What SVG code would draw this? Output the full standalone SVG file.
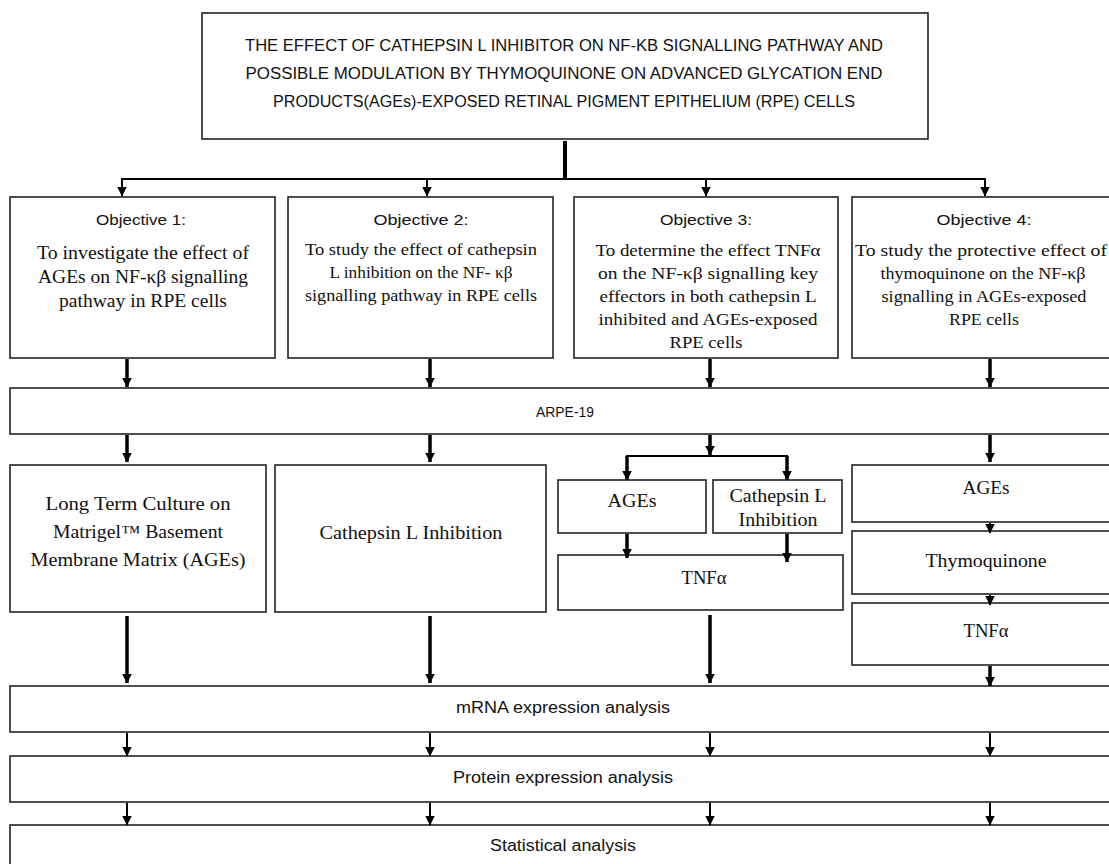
<svg xmlns="http://www.w3.org/2000/svg" width="1109" height="864" viewBox="0 0 1109 864">
<style>
.box{fill:#fff;stroke:#222;stroke-width:1.6}
.sans{font-family:"Liberation Sans","Open Sans",sans-serif;fill:#111;text-anchor:middle}
.serif{font-family:"Liberation Serif","DejaVu Serif",serif;fill:#111;text-anchor:middle}
.ln{stroke:#000;stroke-width:2;fill:none}
.thick{stroke:#000;stroke-width:3.5;fill:none}
</style>
<defs>
<marker id="ah" markerWidth="10" markerHeight="11" refX="9.5" refY="5.5" orient="auto" markerUnits="userSpaceOnUse" viewBox="0 0 10 11">
<path d="M0,0.5 L0,10.5 L10,5.5 Z" fill="#000"/>
</marker>
</defs>
<rect width="1109" height="864" fill="#fff"/>

<g id="title">
<rect class="box" x="202" y="13" width="726" height="126"/>
<text class="sans" font-size="16" x="564" y="51" textLength="638" lengthAdjust="spacingAndGlyphs">THE EFFECT OF CATHEPSIN L INHIBITOR ON NF-KB SIGNALLING PATHWAY AND</text>
<text class="sans" font-size="16" x="564" y="79" textLength="637" lengthAdjust="spacingAndGlyphs">POSSIBLE MODULATION BY THYMOQUINONE ON ADVANCED GLYCATION END</text>
<text class="sans" font-size="16" x="564" y="107" textLength="582" lengthAdjust="spacingAndGlyphs">PRODUCTS(AGEs)-EXPOSED RETINAL PIGMENT EPITHELIUM (RPE) CELLS</text>
</g>

<g id="obj1">
<rect class="box" x="10" y="197" width="265" height="161"/>
<text class="sans" font-size="15.5" x="141" y="225" textLength="90" lengthAdjust="spacingAndGlyphs">Objective 1:</text>
<text class="serif" font-size="18.5" x="143" y="259" textLength="212" lengthAdjust="spacingAndGlyphs">To investigate the effect of</text>
<text class="serif" font-size="18.5" x="143" y="283" textLength="210" lengthAdjust="spacingAndGlyphs">AGEs on NF-κβ signalling</text>
<text class="serif" font-size="18.5" x="143" y="307" textLength="168" lengthAdjust="spacingAndGlyphs">pathway in RPE cells</text>
</g>
<g id="obj2">
<rect class="box" x="288" y="197" width="265" height="161"/>
<text class="sans" font-size="15.5" x="421" y="225" textLength="95" lengthAdjust="spacingAndGlyphs">Objective 2:</text>
<text class="serif" font-size="17" x="421" y="255" textLength="232" lengthAdjust="spacingAndGlyphs">To study the effect of cathepsin</text>
<text class="serif" font-size="17" x="421" y="278" textLength="183" lengthAdjust="spacingAndGlyphs">L inhibition on the NF- κβ</text>
<text class="serif" font-size="17" x="421" y="301" textLength="232" lengthAdjust="spacingAndGlyphs">signalling pathway in RPE cells</text>
</g>
<g id="obj3">
<rect class="box" x="574" y="197" width="264" height="161"/>
<text class="sans" font-size="15.5" x="706" y="225" textLength="92" lengthAdjust="spacingAndGlyphs">Objective 3:</text>
<text class="serif" font-size="17" x="708" y="256" textLength="225" lengthAdjust="spacingAndGlyphs">To determine the effect TNFα</text>
<text class="serif" font-size="17" x="708" y="279" textLength="220" lengthAdjust="spacingAndGlyphs">on the NF-κβ signalling key</text>
<text class="serif" font-size="17" x="708" y="302" textLength="217" lengthAdjust="spacingAndGlyphs">effectors in both cathepsin L</text>
<text class="serif" font-size="17" x="708" y="325" textLength="219" lengthAdjust="spacingAndGlyphs">inhibited and AGEs-exposed</text>
<text class="serif" font-size="17" x="706" y="348" textLength="73" lengthAdjust="spacingAndGlyphs">RPE cells</text>
</g>
<g id="obj4">
<rect class="box" x="852" y="197" width="270" height="161"/>
<text class="sans" font-size="15.5" x="984" y="225" textLength="95" lengthAdjust="spacingAndGlyphs">Objective 4:</text>
<text class="serif" font-size="17" x="981" y="256" textLength="252" lengthAdjust="spacingAndGlyphs">To study the protective effect of</text>
<text class="serif" font-size="17" x="983" y="279" textLength="205" lengthAdjust="spacingAndGlyphs">thymoquinone on the NF-κβ</text>
<text class="serif" font-size="17" x="984" y="302" textLength="205" lengthAdjust="spacingAndGlyphs">signalling in AGEs-exposed</text>
<text class="serif" font-size="17" x="984" y="325" textLength="70" lengthAdjust="spacingAndGlyphs">RPE cells</text>
</g>

<g id="arpe">
<rect class="box" x="10" y="388" width="1110" height="46"/>
<text class="sans" font-size="15.5" x="565" y="417" textLength="58" lengthAdjust="spacingAndGlyphs">ARPE-19</text>
</g>

<g id="longterm">
<rect class="box" x="10" y="465" width="256" height="147"/>
<text class="serif" font-size="18.5" x="138" y="510" textLength="185" lengthAdjust="spacingAndGlyphs">Long Term Culture on</text>
<text class="serif" font-size="18.5" x="138" y="538" textLength="170" lengthAdjust="spacingAndGlyphs">Matrigel™ Basement</text>
<text class="serif" font-size="18.5" x="138" y="566" textLength="215" lengthAdjust="spacingAndGlyphs">Membrane Matrix (AGEs)</text>
</g>
<g id="cathinh">
<rect class="box" x="275" y="465" width="271" height="147"/>
<text class="serif" font-size="18.5" x="411" y="539" textLength="183" lengthAdjust="spacingAndGlyphs">Cathepsin L Inhibition</text>
</g>
<g id="ages3">
<rect class="box" x="558" y="480" width="148" height="53"/>
<text class="serif" font-size="18" x="632" y="507" textLength="49" lengthAdjust="spacingAndGlyphs">AGEs</text>
</g>
<g id="cath3">
<rect class="box" x="713" y="480" width="129" height="53"/>
<text class="serif" font-size="18" x="778" y="502" textLength="97" lengthAdjust="spacingAndGlyphs">Cathepsin L</text>
<text class="serif" font-size="18" x="778" y="526" textLength="79" lengthAdjust="spacingAndGlyphs">Inhibition</text>
</g>
<g id="tnf3">
<rect class="box" x="558" y="555" width="285" height="55"/>
<text class="serif" font-size="18" x="704" y="584" textLength="45" lengthAdjust="spacingAndGlyphs">TNFα</text>
</g>
<g id="ages4">
<rect class="box" x="852" y="465" width="270" height="57"/>
<text class="serif" font-size="18" x="986" y="494" textLength="47" lengthAdjust="spacingAndGlyphs">AGEs</text>
</g>
<g id="thymo4">
<rect class="box" x="852" y="531" width="270" height="63"/>
<text class="serif" font-size="18" x="986" y="567" textLength="121" lengthAdjust="spacingAndGlyphs">Thymoquinone</text>
</g>
<g id="tnf4">
<rect class="box" x="852" y="603" width="270" height="62"/>
<text class="serif" font-size="18" x="986" y="637" textLength="45" lengthAdjust="spacingAndGlyphs">TNFα</text>
</g>

<g id="mrna">
<rect class="box" x="10" y="686" width="1110" height="46"/>
<text class="sans" font-size="16" x="563" y="713" textLength="214" lengthAdjust="spacingAndGlyphs">mRNA expression analysis</text>
</g>
<g id="protein">
<rect class="box" x="10" y="756" width="1110" height="46"/>
<text class="sans" font-size="16" x="563" y="783" textLength="220" lengthAdjust="spacingAndGlyphs">Protein expression analysis</text>
</g>
<g id="stats">
<rect class="box" x="10" y="825" width="1110" height="50"/>
<text class="sans" font-size="16" x="563" y="851" textLength="146" lengthAdjust="spacingAndGlyphs">Statistical analysis</text>
</g>

<g id="connectors">
<line x1="565" y1="141" x2="565" y2="179" stroke="#000" stroke-width="4"/>
<line class="ln" x1="121" y1="179" x2="986" y2="179"/>
<line class="ln" x1="122" y1="178" x2="122" y2="196" marker-end="url(#ah)"/>
<line class="ln" x1="427" y1="178" x2="427" y2="196" marker-end="url(#ah)"/>
<line class="ln" x1="706" y1="178" x2="706" y2="196" marker-end="url(#ah)"/>
<line class="ln" x1="985" y1="178" x2="985" y2="196" marker-end="url(#ah)"/>

<line class="thick" x1="127" y1="359" x2="127" y2="387" marker-end="url(#ah)"/>
<line class="thick" x1="430" y1="359" x2="430" y2="387" marker-end="url(#ah)"/>
<line class="thick" x1="710" y1="359" x2="710" y2="387" marker-end="url(#ah)"/>
<line class="thick" x1="990" y1="359" x2="990" y2="387" marker-end="url(#ah)"/>

<line class="thick" x1="127" y1="435" x2="127" y2="462" marker-end="url(#ah)"/>
<line class="thick" x1="430" y1="435" x2="430" y2="462" marker-end="url(#ah)"/>
<line class="thick" x1="990" y1="435" x2="990" y2="462" marker-end="url(#ah)"/>
<line class="thick" x1="710" y1="435" x2="710" y2="455" marker-end="url(#ah)"/>
<line class="ln" x1="626" y1="456" x2="788" y2="456"/>
<line class="thick" x1="627" y1="456" x2="627" y2="480" marker-end="url(#ah)"/>
<line class="thick" x1="787" y1="456" x2="787" y2="480" marker-end="url(#ah)"/>

<line class="thick" x1="627" y1="534" x2="627" y2="558" marker-end="url(#ah)"/>
<line class="thick" x1="787" y1="534" x2="787" y2="562" marker-end="url(#ah)"/>
<line class="ln" x1="990" y1="523" x2="990" y2="533" marker-end="url(#ah)"/>
<line class="ln" x1="990" y1="595" x2="990" y2="605" marker-end="url(#ah)"/>

<line class="thick" x1="127" y1="616" x2="127" y2="683" marker-end="url(#ah)"/>
<line class="thick" x1="430" y1="616" x2="430" y2="683" marker-end="url(#ah)"/>
<line class="thick" x1="710" y1="615" x2="710" y2="683" marker-end="url(#ah)"/>
<line class="thick" x1="990" y1="666" x2="990" y2="686" marker-end="url(#ah)"/>

<line class="ln" x1="127" y1="733" x2="127" y2="756" marker-end="url(#ah)"/>
<line class="ln" x1="430" y1="733" x2="430" y2="756" marker-end="url(#ah)"/>
<line class="ln" x1="710" y1="733" x2="710" y2="756" marker-end="url(#ah)"/>
<line class="ln" x1="990" y1="733" x2="990" y2="756" marker-end="url(#ah)"/>

<line class="ln" x1="127" y1="803" x2="127" y2="825" marker-end="url(#ah)"/>
<line class="ln" x1="430" y1="803" x2="430" y2="825" marker-end="url(#ah)"/>
<line class="ln" x1="710" y1="803" x2="710" y2="825" marker-end="url(#ah)"/>
<line class="ln" x1="990" y1="803" x2="990" y2="825" marker-end="url(#ah)"/>
</g>
</svg>
